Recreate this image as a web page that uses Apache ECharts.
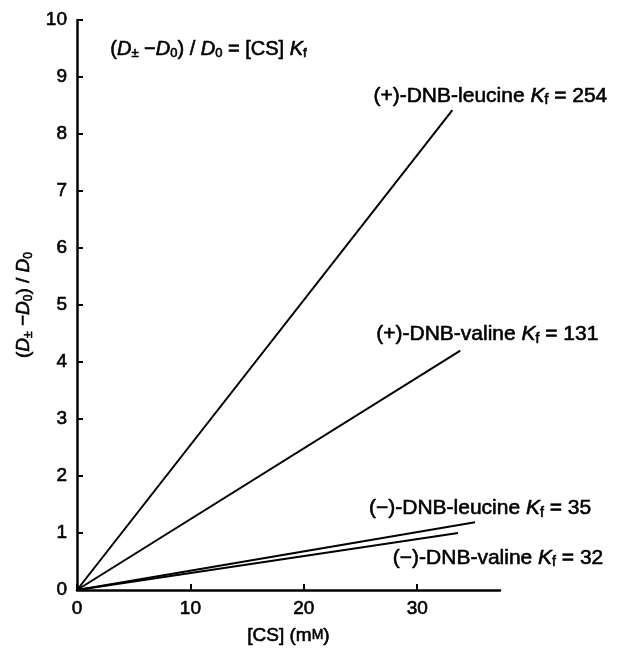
<!DOCTYPE html>
<html>
<head>
<meta charset="utf-8">
<script src="https://cdn.jsdelivr.net/npm/echarts@6/dist/echarts.min.js"></script>
<style>
  html, body { margin: 0; padding: 0; background: #fff; }
  #chart { width: 619px; height: 650px; }
</style>
</head>
<body>
<div id="chart"></div>
<script>
// values: [CS] in mM, (D - D0)/D0
const leucinePlus = [[0, 0], [33.1, 8.42]];
const valinePlus = [[0, 0], [33.8, 4.2]];
const leucineMinus = [[0, 0], [35.1, 1.19]];
const valineMinus = [[0, 0], [33.6, 1.0]];
const xTicks = [0, 10, 20, 30];
const yTicks = [0, 1, 2, 3, 4, 5, 6, 7, 8, 9, 10];

const FONT = "Liberation Sans";
// thin outline gives the medium weight of the printed figure
const heavy = { textBorderColor: "#000", textBorderWidth: 0.6 };
// same thing in zrender naming, for the graphic text
const heavyZr = { stroke: "#000", lineWidth: 0.6 };

// rich text styles for labels with italic symbols and subscripts
function makeRich(size, outline) {
  const base = Object.assign({ fontFamily: FONT, color: "#000", fill: "#000" }, outline || heavy);
  return {
    t: Object.assign({}, base, { fontSize: size }),
    i: Object.assign({}, base, { fontSize: size, fontStyle: "italic" }),
    sub: Object.assign({}, base, { fontSize: Math.round(size * 0.65), padding: [Math.round(size * 0.45), 0, 0, 0] }),
    sc: Object.assign({}, base, { fontSize: Math.round(size * 0.75) })
  };
}
const richLabel = makeRich(21);
const richAxis = makeRich(19);

function lineSeries(name, data, labelText, offset) {
  return {
    name: name,
    type: "line",
    data: data,
    showSymbol: false,
    lineStyle: { color: "#000", width: 2 },
    endLabel: {
      show: true,
      formatter: labelText,
      align: "center",
      verticalAlign: "middle",
      offset: offset,
      rich: richLabel
    },
    silent: true
  };
}

const tickLabel = Object.assign({ color: "#000", fontFamily: FONT, fontSize: 19 }, heavy);

const chart = echarts.init(document.getElementById("chart"));
chart.setOption({
  animation: false,
  grid: { left: 77, right: 119, top: 20, bottom: 60, outerBoundsMode: "none" },
  xAxis: {
    type: "value",
    min: 0,
    max: 37.3,
    name: "{t|[CS] (m}{sc|M}{t|)}",
    nameLocation: "middle",
    nameGap: 36,
    nameTextStyle: { rich: richAxis },
    axisLine: { lineStyle: { color: "#000", width: 2.5 } },
    axisTick: { inside: true, length: 6, lineStyle: { color: "#000", width: 2 }, customValues: xTicks },
    axisLabel: Object.assign({ customValues: xTicks, margin: 9 }, tickLabel),
    splitLine: { show: false }
  },
  yAxis: {
    type: "value",
    min: 0,
    max: 10,
    interval: 1,
    name: "{t|(}{i|D}{sub|±}{t| −}{i|D}{sub|0}{t|) / }{i|D}{sub|0}",
    nameLocation: "middle",
    nameGap: 42,
    nameTextStyle: { rich: richAxis },
    axisLine: { lineStyle: { color: "#000", width: 2.5 } },
    axisTick: { inside: true, length: 6, lineStyle: { color: "#000", width: 2 }, customValues: yTicks },
    axisLabel: Object.assign({ customValues: yTicks, margin: 10 }, tickLabel),
    splitLine: { show: false }
  },
  graphic: [{
    type: "text",
    left: 110,
    top: 39,
    style: {
      text: "{t|(}{i|D}{sub|±}{t| −}{i|D}{sub|0}{t|) / }{i|D}{sub|0}{t| = [CS] }{i|K}{sub|f}",
      rich: makeRich(20, heavyZr)
    }
  }],
  series: [
    lineSeries("(+)-DNB-leucine", leucinePlus, "{t|(+)-DNB-leucine }{i|K}{sub|f}{t| = 254}", [30, -14]),
    lineSeries("(+)-DNB-valine", valinePlus, "{t|(+)-DNB-valine }{i|K}{sub|f}{t| = 131}", [19, -16]),
    lineSeries("(−)-DNB-leucine", leucineMinus, "{t|(−)-DNB-leucine }{i|K}{sub|f}{t| = 35}", [-3, -14]),
    lineSeries("(−)-DNB-valine", valineMinus, "{t|(−)-DNB-valine }{i|K}{sub|f}{t| = 32}", [32, 25])
  ]
});
</script>
</body>
</html>
